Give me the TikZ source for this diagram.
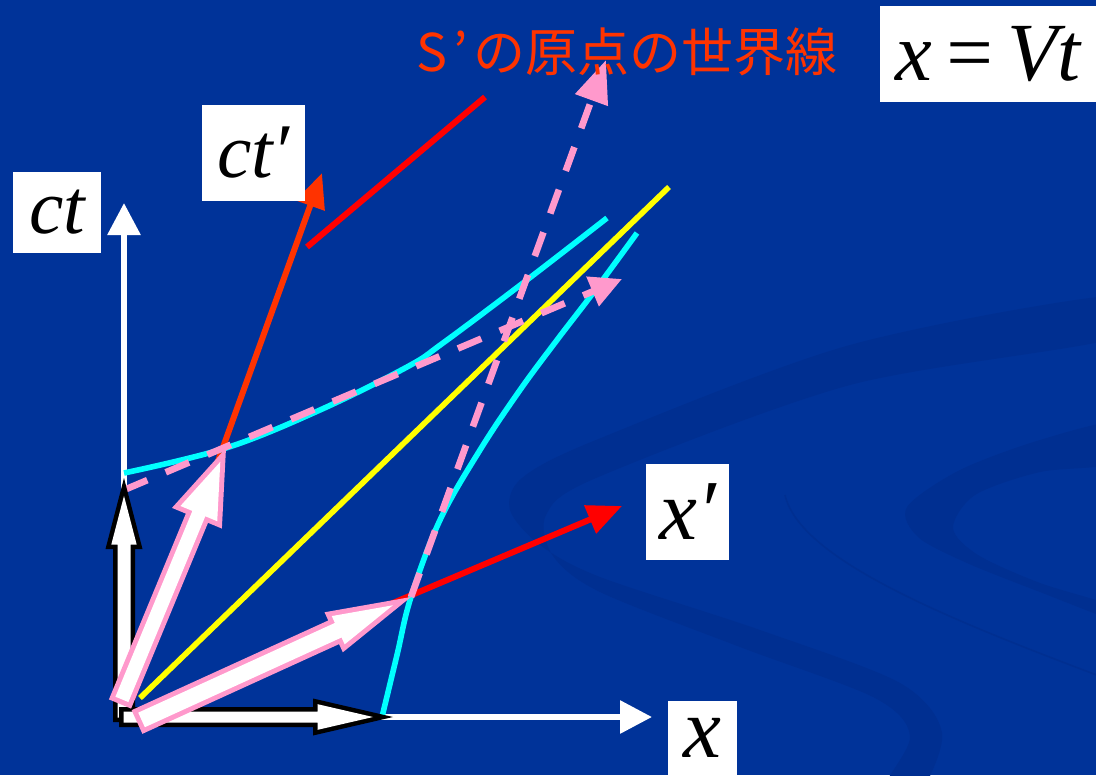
\documentclass[tikz,border=0pt]{standalone}
\usepackage{fontspec}
\newfontfamily\tms{Liberation Serif}
\newfontfamily\jpfont{Noto Sans CJK JP}
\usetikzlibrary{arrows.meta,calc}
\definecolor{bgblue}{RGB}{0,51,153}
\definecolor{swirl}{RGB}{0,47,145}
\definecolor{lpink}{RGB}{255,153,204}
\definecolor{orred}{RGB}{255,51,0}
\definecolor{aqua}{RGB}{0,255,255}
\definecolor{lemon}{RGB}{255,255,0}
% solid block arrow: colour, tail, tip, shaft half width, head half width, head length (px)
\newcommand{\fatshape}[6]{%
  \coordinate (hb) at ($(#3)!#6*0.75pt!(#2)$);
  \fill[#1] ($(#2)!#4*0.75pt!90:(#3)$) -- ($(hb)!#4*0.75pt!-90:(#2)$) -- ($(hb)!#5*0.75pt!-90:(#2)$)
    -- (#3) -- ($(hb)!#5*0.75pt!90:(#2)$) -- ($(hb)!#4*0.75pt!90:(#2)$) -- ($(#2)!#4*0.75pt!-90:(#3)$) -- cycle;
}
% white block arrow with a coloured outline of width #7
\newcommand{\hollowarrow}[7]{%
  \pgfmathsetmacro{\tipback}{#7/sin(atan(#5/#6))}
  \pgfmathsetmacro{\ihl}{#6-#7-\tipback}
  \pgfmathsetmacro{\ihh}{\ihl*#5/#6}
  \pgfmathsetmacro{\ish}{#4-#7}
  \fatshape{#1}{#2}{#3}{#4}{#5}{#6}
  \coordinate (it) at ($(#2)!#7*0.75pt!(#3)$);
  \coordinate (ip) at ($(#3)!\tipback*0.75pt!(#2)$);
  \fatshape{white}{it}{ip}{\ish}{\ihh}{\ihl}
}

\begin{document}
\begin{tikzpicture}[x=0.75pt, y=-0.75pt,
  lbl/.style={fill=white, inner sep=0pt, text=black, font=\tms\itshape\fontsize{#1}{#1}\selectfont},
  axis/.style={white, line width=4.5pt, -{Triangle[length=24pt, width=24pt]}},
  redaxis/.style={line width=4.5pt, -{Triangle[length=26pt, width=22pt]}},
  cone/.style={lemon, line width=4.2pt},
  hyper/.style={aqua, line width=4.2pt},
  simul/.style={lpink, line width=5pt, dash pattern=on 19pt off 15pt}
]
\useasboundingbox (0,0) rectangle (1096,775);
\fill[bgblue] (0,0) rectangle (1096,775);
% background swirls
\fill[swirl] plot[smooth cycle] coordinates {(1120,295) (850,345) (596,440) (522,478) (510,510) (540,545)
  (600,577) (760,630) (900,683) (942,733) (918,795) (880,795) (910,737) (875,698) (740,647) (600,592)
  (553,556) (546,515) (596,478) (850,385) (1120,337)};
\fill[swirl] plot[smooth cycle] coordinates {(1120,422) (1040,440) (960,470) (907,507) (918,537) (967,563)
  (1040,592) (1120,622) (1120,608) (1040,583) (978,555) (953,528) (975,495) (1040,472) (1120,462)};
\draw[swirl, line width=1.2pt] (785,495) .. controls (800,560) and (950,620) .. (1110,680);

% points of the diagram
\coordinate (O) at (124,717);
\coordinate (ctend) at (124,203);
\coordinate (xend) at (652,717);
\coordinate (Op) at (126,716);
\coordinate (ctpend) at (322,173);
\coordinate (xpend) at (622,506);
\coordinate (P) at (226,448);
\coordinate (Q) at (411,597);
\coordinate (hypA) at (124,473);
\coordinate (hypAend) at (607,218);
\coordinate (hypB) at (382,717);
\coordinate (hypBend) at (637,233);
\coordinate (lcA) at (140,698);
\coordinate (lcB) at (669,187);
\coordinate (simA) at (124,490);
\coordinate (simB) at (622,279);
\coordinate (worldB) at (606,60);
\coordinate (ptrA) at (307,247);
\coordinate (ptrB) at (485,97);

% S frame axes and light cone
\draw[axis] (O) -- (ctend);
\draw[axis] (O) -- (xend);
\draw[cone] (lcA) -- (lcB);
% S' axes
\draw[redaxis, orred] (Op) -- (ctpend);
\draw[redaxis, red] (Op) -- (xpend);
\draw[red, line width=4.5pt] (ptrA) -- (ptrB);
% hyperbolae
\draw[hyper] plot[smooth, tension=0.6] coordinates {(hypA) (P) (320,410) (407,367) (443,343) (523,283) (hypAend)};
\draw[hyper] plot[smooth, tension=0.6] coordinates {(hypB) (397,655) (Q) (440,520) (480,450) (520,390) (557,340) (593,293) (hypBend)};
% dashed lines
\draw[simul, -{Triangle[length=24pt, width=23pt]}] (simA) -- (simB);
\draw[simul, -{Triangle[length=32pt, width=25pt]}] (Q) -- (worldB);

% unit vectors
\coordinate (bvA) at (124,722);
\coordinate (bvB) at (124,478);
\coordinate (bhA) at (119,717);
\coordinate (bhB) at (393,717);
\coordinate (pcA) at (120,704);
\coordinate (pxA) at (137,722);
\hollowarrow{black}{bvA}{bvB}{11}{18.5}{71}{4.5}
\hollowarrow{black}{bhA}{bhB}{10}{18.5}{80}{4.5}
\hollowarrow{lpink}{pcA}{P}{12}{27}{76}{5}
\hollowarrow{lpink}{pxA}{Q}{13}{22}{85}{5}

% labels
\node[lbl=58pt, minimum width=66pt, minimum height=60.75pt] (ct) at (57,212.5) {ct};
\node[lbl=58pt, minimum width=77.25pt, minimum height=72pt] (ctp) at (253.5,153) {ct′};
\node[lbl=64pt, minimum width=62.25pt, minimum height=72pt] (xp) at (687.5,512) {x′};
\node[lbl=64pt, minimum width=51.75pt, minimum height=55.5pt] (x) at (702.5,738) {x};
\node[lbl=62pt, minimum width=162pt, minimum height=72pt] (xvt) at (988,54) {x\hspace{0.12em}=\hspace{0.12em}Vt};
\node[anchor=west, inner sep=0pt, text=orred, font=\jpfont\fontsize{39pt}{39pt}\selectfont] (title) at (416,52) {S\kern5pt’\kern4pt の原点の世界線};
\end{tikzpicture}
\end{document}
